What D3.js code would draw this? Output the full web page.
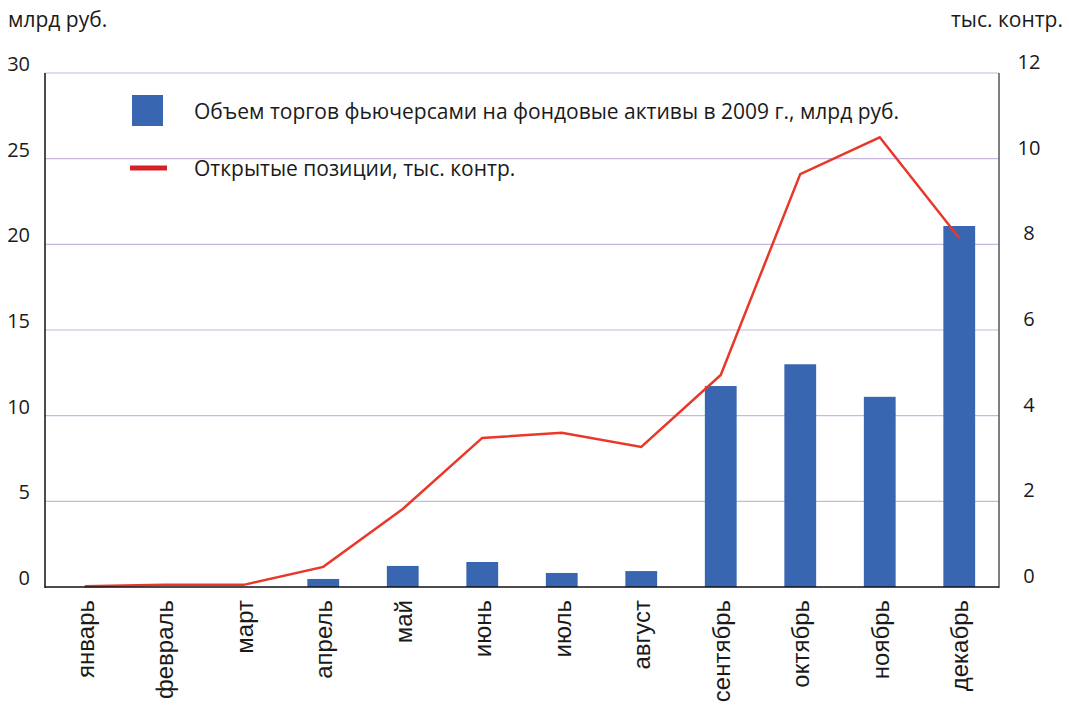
<!DOCTYPE html>
<html>
<head>
<meta charset="utf-8">
<script src="https://cdnjs.cloudflare.com/ajax/libs/d3/7.8.5/d3.min.js"></script>
<style>
  body { margin: 0; background: #fff; }
  text { font-family: "Open Sans", "Noto Sans", sans-serif; fill: #1a1a1a; }
  .month { font-family: "Liberation Sans", Arial, sans-serif; }
</style>
</head>
<body>
<script>
// months (categories)
var maanden = ["январь", "февраль", "март", "апрель", "май", "июнь", "июль",
  "август", "сентябрь", "октябрь", "ноябрь", "декабрь"];
// trading volume, bn rub (left axis)
var volume = [0, 0, 0, 0.47, 1.23, 1.46, 0.82, 0.93, 11.73, 13.0, 11.1, 21.07];
// open positions, thousand contracts (right axis)
var posities = [0.02, 0.05, 0.05, 0.47, 1.82, 3.48, 3.6, 3.27, 4.95, 9.64, 10.5, 8.15];
var linksTicks = [0, 5, 10, 15, 20, 25, 30];
var rechtsTicks = [0, 2, 4, 6, 8, 10, 12];

var breedte = 1069, hoogte = 707;
var marge = {links: 45, rechts: 70, boven: 73, beneden: 120};

var svg = d3.select("body").append("svg")
  .attr("width", breedte)
  .attr("height", hoogte);

// scales
var x = d3.scaleBand()
  .domain(maanden)
  .range([marge.links, breedte - marge.rechts])
  .paddingInner(0.6)
  .paddingOuter(0.3);

var yL = d3.scaleLinear().domain([0, 30]).range([hoogte - marge.beneden, marge.boven]);
var yR = d3.scaleLinear().domain([0, 12]).range([hoogte - marge.beneden, marge.boven]);

var x0 = marge.links, x1 = breedte - marge.rechts;

// gridlines
svg.selectAll(".grid")
  .data(linksTicks.filter(function(d) { return d > 0; }))
  .enter().append("line")
  .attr("x1", x0).attr("x2", x1)
  .attr("y1", function(d) { return yL(d); })
  .attr("y2", function(d) { return yL(d); })
  .attr("stroke", "#c9b6dd")
  .attr("stroke-width", 1.2);

// bars
svg.selectAll(".bar")
  .data(volume)
  .enter().append("rect")
  .attr("x", function(d, i) { return x(maanden[i]); })
  .attr("width", x.bandwidth())
  .attr("y", function(d) { return yL(d); })
  .attr("height", function(d) { return yL(0) - yL(d); })
  .attr("fill", "#3966b1");

// line
var lijn = d3.line()
  .x(function(d, i) { return x(maanden[i]) + x.bandwidth() / 2; })
  .y(function(d) { return yR(d); });

svg.append("path")
  .datum(posities)
  .attr("d", lijn)
  .attr("fill", "none")
  .attr("stroke", "#e8382a")
  .attr("stroke-width", 2.5);

// axis lines
svg.append("line").attr("x1", x0).attr("x2", x0)
  .attr("y1", yL(30)).attr("y2", yL(0) + 1)
  .attr("stroke", "#111").attr("stroke-width", 1.5);
svg.append("line").attr("x1", x1).attr("x2", x1)
  .attr("y1", yL(30)).attr("y2", yL(0) + 1)
  .attr("stroke", "#555").attr("stroke-width", 1.5);
svg.append("line").attr("x1", x0).attr("x2", x1)
  .attr("y1", yL(0)).attr("y2", yL(0))
  .attr("stroke", "#111").attr("stroke-width", 1.5);

// left tick labels
svg.selectAll(".tl")
  .data(linksTicks)
  .enter().append("text")
  .attr("x", 30)
  .attr("y", function(d) { return yL(d) - 2; })
  .attr("text-anchor", "end")
  .attr("font-size", "20px")
  .text(function(d) { return d; });

// right tick labels
svg.selectAll(".tr")
  .data(rechtsTicks)
  .enter().append("text")
  .attr("x", 1029)
  .attr("y", function(d) { return yR(d) - 4; })
  .attr("text-anchor", "middle")
  .attr("font-size", "20px")
  .text(function(d) { return d; });

// units
svg.append("text").attr("x", 8).attr("y", 27)
  .attr("font-size", "21px").text("млрд руб.");
svg.append("text").attr("x", 1063).attr("y", 27)
  .attr("text-anchor", "end")
  .attr("font-size", "21px").text("тыс. контр.");

// month labels
svg.selectAll(".month")
  .data(maanden)
  .enter().append("text")
  .attr("class", "month")
  .attr("transform", function(d) {
    return "translate(" + (x(d) + x.bandwidth() / 2 + 9) + "," + (yL(0) + 13) + ") rotate(-90)";
  })
  .attr("text-anchor", "end")
  .attr("font-size", "24px")
  .text(function(d) { return d; });

// legend
svg.append("rect")
  .attr("x", 132).attr("y", 95)
  .attr("width", 31).attr("height", 31)
  .attr("fill", "#3966b1");
svg.append("text").attr("x", 194).attr("y", 119)
  .attr("font-size", "21px")
  .text("Объем торгов фьючерсами на фондовые активы в 2009 г., млрд руб.");
svg.append("line")
  .attr("x1", 130).attr("x2", 167)
  .attr("y1", 168).attr("y2", 168)
  .attr("stroke", "#d71f26").attr("stroke-width", 5);
svg.append("text").attr("x", 194).attr("y", 176)
  .attr("font-size", "21px")
  .text("Открытые позиции, тыс. контр.");
</script>
</body>
</html>
